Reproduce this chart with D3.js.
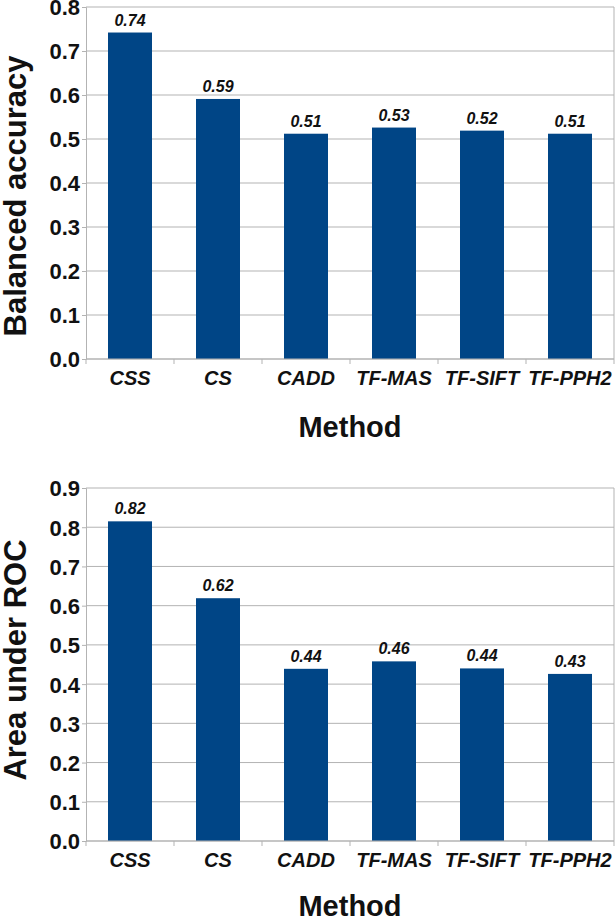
<!DOCTYPE html>
<html><head><meta charset="utf-8">
<script src="https://cdn.jsdelivr.net/npm/d3@7"></script>
<style>body{margin:0;background:#fff}svg{display:block}</style>
</head><body><svg id="c" width="616" height="918"></svg>
<script>
const methods = ["CSS","CS","CADD","TF-MAS","TF-SIFT","TF-PPH2"];
const balancedAccuracy = [0.742,0.591,0.512,0.526,0.519,0.512];
const balancedLabels = ["0.74","0.59","0.51","0.53","0.52","0.51"];
const aucValues = [0.815,0.619,0.439,0.458,0.440,0.426];
const aucLabels = ["0.82","0.62","0.44","0.46","0.44","0.43"];
const topTicks = [0,0.1,0.2,0.3,0.4,0.5,0.6,0.7,0.8];
const bottomTicks = [0,0.1,0.2,0.3,0.4,0.5,0.6,0.7,0.8,0.9];

const svg = d3.select("#c");
const barColor = "#004586", gridColor = "#b3b3b3";
const arial = "'Liberation Sans', Arial, sans-serif";

function panel(cfg){
  const g = svg.append("g");
  const x = d3.scaleBand().domain(methods).range([cfg.left, cfg.right]).paddingInner(0.5).paddingOuter(0.25);
  const y = d3.scaleLinear().domain([0, cfg.max]).range([cfg.bottom, cfg.top]);
  g.selectAll(".grid").data(cfg.ticks).join("line")
    .attr("x1", cfg.left).attr("x2", cfg.right)
    .attr("y1", d=>y(d)).attr("y2", d=>y(d))
    .attr("stroke", gridColor).attr("stroke-width",1);
  g.append("line").attr("x1",cfg.right).attr("x2",cfg.right).attr("y1",cfg.top).attr("y2",cfg.bottom)
    .attr("stroke",gridColor);
  g.selectAll(".bar").data(cfg.values).join("rect")
    .attr("x",(d,i)=>x(methods[i])).attr("width",x.bandwidth())
    .attr("y",d=>y(d)).attr("height",d=>y(0)-y(d)).attr("fill",barColor);
  g.selectAll(".vl").data(cfg.values).join("text")
    .attr("x",(d,i)=>x(methods[i])+x.bandwidth()/2).attr("y",d=>y(d)-7)
    .attr("text-anchor","middle").attr("font-family",arial).attr("font-weight","bold")
    .attr("font-style","italic").attr("font-size",16).attr("fill","#111")
    .text((d,i)=>cfg.labels[i]);
  const ya = d3.axisLeft(y).tickValues(cfg.ticks).tickFormat(d3.format(".1f")).tickSize(4).tickPadding(2);
  const yg = g.append("g").attr("transform",`translate(${cfg.left},0)`).call(ya);
  yg.select(".domain").attr("stroke",gridColor);
  yg.selectAll(".tick line").attr("stroke",gridColor);
  yg.selectAll("text").attr("font-family",arial).attr("font-weight","bold").attr("font-size",22).attr("fill","#111").attr("dy","0.36em");
  const outer = d3.scaleBand().domain(methods).range([cfg.left,cfg.right]);
  g.append("line").attr("x1",cfg.left).attr("x2",cfg.right).attr("y1",cfg.bottom).attr("y2",cfg.bottom).attr("stroke",gridColor);
  const bounds = methods.map(m=>outer(m)).concat([cfg.right]);
  g.selectAll(".xt").data(bounds).join("line")
    .attr("x1",d=>d).attr("x2",d=>d).attr("y1",cfg.bottom).attr("y2",cfg.bottom+5).attr("stroke",gridColor);
  g.selectAll(".xl").data(methods).join("text")
    .attr("x",d=>outer(d)+outer.bandwidth()/2).attr("y",cfg.bottom+26)
    .attr("text-anchor","middle").attr("font-family",arial).attr("font-weight","bold")
    .attr("font-style","italic").attr("font-size",20).attr("fill","#111").text(d=>d);
  g.append("text").attr("x",(cfg.left+cfg.right)/2).attr("y",cfg.bottom+cfg.mOff)
    .attr("text-anchor","middle").attr("font-family",arial).attr("font-weight","bold")
    .attr("font-size",29).attr("fill","#111").text("Method");
  g.append("text").attr("transform",`translate(26,${cfg.tCenter}) rotate(-90)`)
    .attr("text-anchor","middle").attr("font-family",arial).attr("font-weight","bold")
    .attr("font-size",31).attr("fill","#111").text(cfg.ytitle);
}

panel({left:86,right:614,top:7,bottom:359,max:0.8,ticks:topTicks,values:balancedAccuracy,labels:balancedLabels,ytitle:"Balanced accuracy",mOff:78,tCenter:196});
panel({left:86,right:614,top:488,bottom:841,max:0.9,ticks:bottomTicks,values:aucValues,labels:aucLabels,ytitle:"Area under ROC",mOff:75,tCenter:660});
</script></body></html>
